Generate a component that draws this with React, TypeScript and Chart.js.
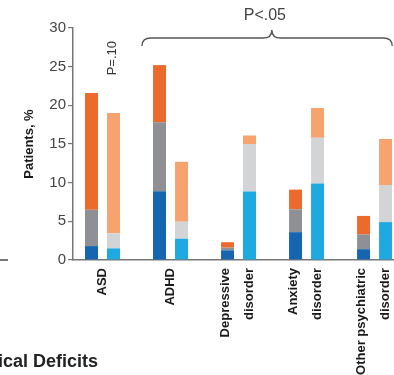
import React, { useEffect, useRef } from 'react';
import { Chart, registerables } from 'chart.js';
Chart.register(...registerables);

const categories: string[][] = [
  ['ASD'],
  ['ADHD'],
  ['Depressive', 'disorder'],
  ['Anxiety', 'disorder'],
  ['Other psychiatric', 'disorder'],
];
const yTickValues = [0, 5, 10, 15, 20, 25, 30];

// first (dark) bar of each pair: stacked segments, %
const darkBlue = [1.8, 8.9, 1.25, 3.6, 1.4];
const darkGray = [4.7, 8.9, 0.35, 2.95, 1.9];
const darkOrange = [15.1, 7.4, 0.7, 2.55, 2.4];
// second (light) bar of each pair
const lightBlue = [1.5, 2.75, 8.85, 9.9, 4.9];
const lightGray = [1.95, 2.2, 6.15, 5.9, 4.8];
const lightOrange = [15.55, 7.75, 1.1, 3.85, 5.95];

const pTextAsd = 'P=.10';
const pTextOthers = 'P<.05';

const toXY = (arr: number[]) => arr.map((v, i) => ({ x: i, y: v }));

const SANS = '"Liberation Sans", Arial, sans-serif';

const annotationPlugin = {
  id: 'annot',
  afterDraw(chart: any) {
    const { ctx, scales } = chart;
    const xs = scales.x;
    const ys = scales.y;
    ctx.save();
    const px = xs.getPixelForValue(0) + 10;
    const py = ys.getPixelForValue(26.1);
    ctx.translate(px, py);
    ctx.rotate(-Math.PI / 2);
    ctx.fillStyle = '#333';
    ctx.font = '13px ' + SANS;
    ctx.textAlign = 'center';
    ctx.textBaseline = 'middle';
    ctx.fillText(pTextAsd, 0, 0);
    ctx.restore();

    ctx.save();
    const x0 = xs.getPixelForValue(0.58);
    const x1 = xs.getPixelForValue(4.26);
    const xm = xs.getPixelForValue(2.49);
    const yl = ys.getPixelForValue(28.7);
    const yb = yl + 8;
    const yp = ys.getPixelForValue(29.75);
    const r = 9;
    ctx.strokeStyle = '#555';
    ctx.lineWidth = 1.4;
    ctx.beginPath();
    ctx.moveTo(x0, yb);
    ctx.quadraticCurveTo(x0, yl, x0 + r, yl);
    ctx.lineTo(xm - r, yl);
    ctx.quadraticCurveTo(xm, yl, xm, yp);
    ctx.quadraticCurveTo(xm, yl, xm + r, yl);
    ctx.lineTo(x1 - r, yl);
    ctx.quadraticCurveTo(x1, yl, x1, yb);
    ctx.stroke();
    ctx.fillStyle = '#444';
    ctx.font = '16px ' + SANS;
    ctx.textAlign = 'center';
    ctx.textBaseline = 'middle';
    ctx.fillText(pTextOthers, xm - 7, ys.getPixelForValue(31.6));
    ctx.restore();
  },
};

export default function App() {
  const ref = useRef<HTMLCanvasElement | null>(null);
  useEffect(() => {
    if (!ref.current) return;
    const xMin = -0.434;
    const xMax = 4.286;
    const chart = new Chart(ref.current, {
      type: 'bar',
      data: {
        datasets: [
          { label: 'a-blue', data: toXY(darkBlue), backgroundColor: '#1565B0', stack: 'a' },
          { label: 'a-gray', data: toXY(darkGray), backgroundColor: '#8F9094', stack: 'a' },
          { label: 'a-orange', data: toXY(darkOrange), backgroundColor: '#EC6A2B', stack: 'a' },
          { label: 'b-blue', data: toXY(lightBlue), backgroundColor: '#1EAAE0', stack: 'b' },
          { label: 'b-gray', data: toXY(lightGray), backgroundColor: '#D3D4D6', stack: 'b' },
          { label: 'b-orange', data: toXY(lightOrange), backgroundColor: '#F7A36F', stack: 'b' },
        ] as any,
      },
      options: {
        animation: false,
        responsive: true,
        maintainAspectRatio: false,
        categoryPercentage: 0.647,
        barPercentage: 0.59,
        layout: { padding: { top: 28, left: 0, right: 0, bottom: 0 } },
        plugins: { legend: { display: false }, tooltip: { enabled: false } },
        scales: {
          x: {
            type: 'linear',
            stacked: true,
            offset: false,
            min: xMin,
            max: xMax,
            weight: 0,
            grid: { display: false, drawTicks: false, offset: false },
            border: { display: true, color: '#777', width: 1.5 },
            ticks: { display: false, stepSize: 1, includeBounds: false },
            afterFit: (s: any) => {
              s.height = 0;
              s.paddingLeft = 0;
              s.paddingRight = 0;
            },
          },
          xl: {
            type: 'linear',
            position: 'bottom',
            offset: false,
            min: xMin,
            max: xMax,
            weight: 1,
            grid: { display: false, drawTicks: false, offset: false },
            border: { display: false },
            afterBuildTicks: (s: any) => {
              s.ticks = categories.map((c, i) => ({ value: i - (c.length - 1) * 0.2 }));
            },
            ticks: {
              autoSkip: false,
              minRotation: 90,
              maxRotation: 90,
              padding: 8,
              color: '#1a1a1a',
              font: { family: SANS, size: 13, weight: 'bold', lineHeight: 1.92 },
              callback: (_v: any, i: number) => categories[i] || '',
            },
            afterFit: (s: any) => {
              s.height = 115;
              s.paddingLeft = 0;
              s.paddingRight = 0;
            },
          },
          y: {
            stacked: true,
            min: 0,
            max: 30,
            afterBuildTicks: (s: any) => {
              s.ticks = yTickValues.map((v) => ({ value: v }));
            },
            grid: { drawOnChartArea: false, drawTicks: true, tickLength: 5, color: '#777', lineWidth: 1.2 },
            border: { display: true, color: '#777', width: 1.5 },
            ticks: {
              padding: 2,
              color: '#444',
              font: { family: SANS, size: 15 },
            },
            title: {
              display: true,
              text: 'Patients, %',
              color: '#1a1a1a',
              font: { family: SANS, size: 13, weight: 'bold' },
              padding: { top: 22, bottom: 0 },
            },
            afterFit: (s: any) => {
              s.width = 73;
              s.paddingTop = 0;
              s.paddingBottom = 0;
            },
          },
        },
      } as any,
      plugins: [annotationPlugin],
    });
    return () => chart.destroy();
  }, []);
  return (
    <div style={{ position: 'absolute', left: 0, top: 0, width: 394, height: 375, overflow: 'hidden', background: '#fff' }}>
      <canvas ref={ref} />
      <div style={{ position: 'absolute', left: 0, top: 259, width: 8, height: 1.5, background: '#777' }} />
      <div
        style={{
          position: 'absolute',
          left: -2,
          top: 351,
          font: 'bold 18px "Liberation Sans", Arial, sans-serif',
          color: '#222',
          whiteSpace: 'nowrap',
        }}
      >
        ical Deficits
      </div>
    </div>
  );
}
